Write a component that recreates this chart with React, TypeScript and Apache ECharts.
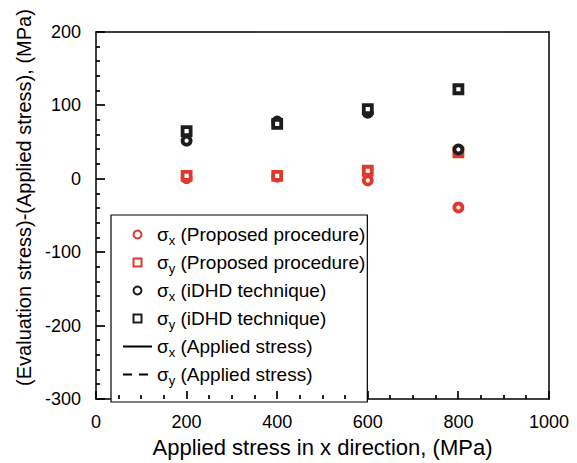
import React, { useEffect, useRef } from "react";
import * as echarts from "echarts";

const xValues = [200, 400, 600, 800];
const sxProposed = [1, 3, -2, -39];
const syProposed = [4, 4, 11, 36];
const sxIDHD = [52, 78, 90, 40];
const syIDHD = [65, 75, 95, 122];
const sxApplied: number[] = [];
const syApplied: number[] = [];

const xTicks = { min: 0, max: 1000, interval: 200 };
const yTicks = { min: -300, max: 200, interval: 100 };
const xMajorTicks = [0, 200, 400, 600, 800, 1000];
const xMinorTicks = [50, 100, 150, 250, 300, 350, 450, 500, 550, 650, 700, 750, 850, 900, 950];
const yMajorTicks = [-300, -200, -100, 0, 100, 200];
const yMinorTicks = [
  -280, -260, -240, -220, -180, -160, -140, -120, -80, -60, -40, -20,
  20, 40, 60, 80, 120, 140, 160, 180,
];

const names = [
  "σx (Proposed procedure)",
  "σy (Proposed procedure)",
  "σx (iDHD technique)",
  "σy (iDHD technique)",
  "σx (Applied stress)",
  "σy (Applied stress)",
];

const RED = "#dd3a2d";
const BLACK = "#1e1c1c";
const FONT = "Liberation Sans, Arial, Helvetica, sans-serif";
const SQUARE = "path://M0,0H10V10H0Z";

const pairs = (ys: number[]) => xValues.map((x, i) => [x, ys[i]]);

export default function App() {
  const ref = useRef<HTMLDivElement>(null);
  useEffect(() => {
    if (!ref.current) return;
    const chart = echarts.init(ref.current, undefined, { renderer: "svg" });
    const scatter = (name: string, ys: number[], symbol: string, color: string) => ({
      name,
      type: "scatter",
      data: pairs(ys),
      symbol,
      symbolSize: 8,
      itemStyle: { color: "#fff", borderColor: color, borderWidth: 3.8, opacity: 1 },
      emphasis: { disabled: true },
      z: 3,
    });
    const lineOnly = {
      type: "value",
      splitLine: { show: false },
      axisLine: { show: true, onZero: false, lineStyle: { color: "#000", width: 1.5 } },
      axisTick: { show: false },
      minorTick: { show: false },
      axisLabel: { show: false },
    };
    chart.setOption({
      animation: false,
      textStyle: { fontFamily: FONT },
      grid: { left: 96, top: 32, width: 453, height: 375 },
      xAxis: [
        {
          type: "value",
          ...xTicks,
          position: "bottom",
          splitLine: { show: false },
          axisLine: { show: true, onZero: false, lineStyle: { color: "#000", width: 1.5 } },
          axisTick: { show: false },
          minorTick: { show: false },
          axisLabel: {
            show: true,
            color: "#000",
            fontSize: 18,
            margin: 14,
            fontFamily: FONT,
            formatter: (v: number) => String(v),
          },
          name: "Applied stress in x direction, (MPa)",
          nameLocation: "middle",
          nameGap: 33,
          nameTextStyle: { color: "#000", fontSize: 22, fontFamily: FONT },
        },
        { ...lineOnly, ...xTicks, position: "top" },
      ],
      yAxis: [
        {
          type: "value",
          ...yTicks,
          position: "left",
          splitLine: { show: false },
          axisLine: { show: true, onZero: false, lineStyle: { color: "#000", width: 1.5 } },
          axisTick: { show: false },
          minorTick: { show: false },
          axisLabel: {
            show: true,
            color: "#000",
            fontSize: 18,
            margin: 15,
            fontFamily: FONT,
            formatter: (v: number) => String(v),
          },
          name: "(Evaluation stress)-(Applied stress), (MPa)",
          nameLocation: "middle",
          nameGap: 56,
          nameTextStyle: { color: "#000", fontSize: 20, fontFamily: FONT, padding: [0, 0, 0, 36] },
        },
        { ...lineOnly, ...yTicks, position: "right" },
      ],
      legend: {
        orient: "vertical",
        left: 111,
        top: 215,
        padding: [10, 2, 15, 11],
        itemWidth: 29,
        itemHeight: 8,
        itemGap: 6,
        borderColor: "#000",
        borderWidth: 1.2,
        backgroundColor: "#fff",
        align: "left",
        symbolKeepAspect: true,
        z: 10,
        data: [
          { name: names[0], icon: "circle" },
          { name: names[1], icon: SQUARE },
          { name: names[2], icon: "circle" },
          { name: names[3], icon: SQUARE },
          { name: names[4] },
          { name: names[5] },
        ],
        formatter: (name: string) => {
          const sub = name.charAt(1);
          const rest = name.slice(2);
          return `{g|σ}{s|${sub}}{t|${rest}}`;
        },
        textStyle: {
          color: "#000",
          fontFamily: FONT,
          fontSize: 19,
          rich: {
            g: { fontSize: 19, color: "#000", fontFamily: FONT },
            s: { fontSize: 13, color: "#000", fontFamily: FONT, padding: [12, 0, 0, 0] },
            t: { fontSize: 19, color: "#000", fontFamily: FONT },
          },
        },
      },
      series: [
        scatter(names[0], sxProposed, "circle", RED),
        scatter(names[1], syProposed, "rect", RED),
        scatter(names[2], sxIDHD, "circle", BLACK),
        scatter(names[3], syIDHD, "rect", BLACK),
        {
          name: names[4],
          type: "line",
          data: pairs(sxApplied),
          symbol: "none",
          lineStyle: { color: "#000", width: 1.2, type: "solid" },
          itemStyle: { color: "transparent", borderWidth: 0, borderColor: "transparent" },
        },
        {
          name: names[5],
          type: "line",
          data: pairs(syApplied),
          symbol: "none",
          lineStyle: { color: "#000", width: 1.2, type: [9, 7] },
          itemStyle: { color: "transparent", borderWidth: 0, borderColor: "transparent" },
        },
      ],
    });

    // Axis ticks placed through the chart's own scales
    const tickEls: any[] = [];
    const px = (v: number[]) =>
      (chart.convertToPixel({ gridIndex: 0 }, v) as number[]).map((c) => Math.round(c));
    const addX = (vals: number[], len: number) =>
      vals.forEach((v) => {
        const p = px([v, yTicks.min]);
        tickEls.push({
          type: "line",
          silent: true,
          z: 20,
          shape: { x1: p[0], y1: p[1], x2: p[0], y2: p[1] - len },
          style: { stroke: "#000", lineWidth: 1.7 },
        });
      });
    const addY = (vals: number[], len: number) =>
      vals.forEach((v) => {
        const p = px([xTicks.min, v]);
        tickEls.push({
          type: "line",
          silent: true,
          z: 20,
          shape: { x1: p[0], y1: p[1], x2: p[0] + len, y2: p[1] },
          style: { stroke: "#000", lineWidth: 1.7 },
        });
      });
    addX(xMajorTicks, 8);
    addX(xMinorTicks, 4);
    addY(yMajorTicks, 9);
    addY(yMinorTicks, 4);
    chart.setOption({ graphic: { elements: tickEls } });

    return () => chart.dispose();
  }, []);
  return (
    <div
      ref={ref}
      style={{ position: "absolute", left: 0, top: 0, width: 577, height: 463 }}
    />
  );
}
